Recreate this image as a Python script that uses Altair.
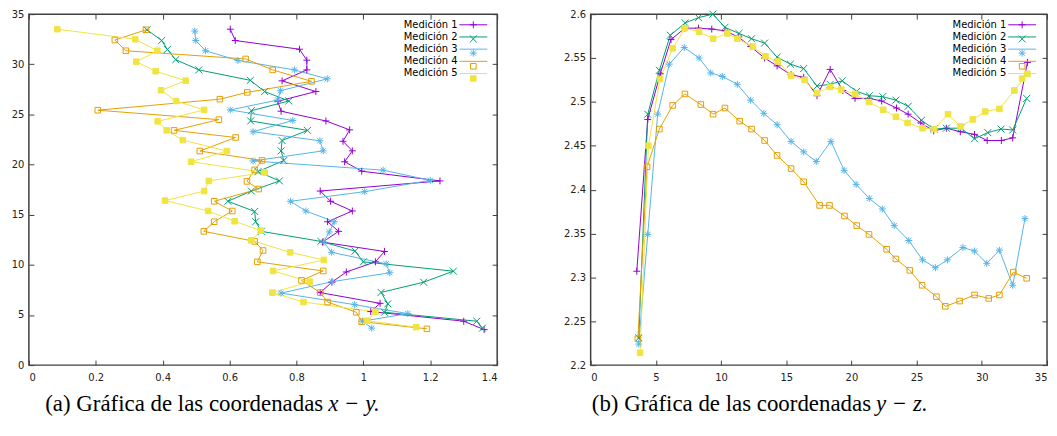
import altair as alt
import pandas as pd

names = ["Medición 1", "Medición 2", "Medición 3", "Medición 4", "Medición 5"]
colors = ["#9400d3", "#009e73", "#56b4e9", "#e69f00", "#f0e442"]

# Medición 1
y1 = [3.54, 4.38, 5.34, 6.16, 7.23, 8.27, 9.29, 10.3, 11.33, 12.27, 13.34, 14.3, 15.37, 16.34, 17.36, 18.37,
      19.34, 20.28, 21.37, 22.32, 23.46, 24.35, 25.32, 26.31, 27.28, 28.35, 29.44, 30.41, 31.5, 32.37, 33.5]
z1 = [2.307, 2.48, 2.532, 2.571, 2.584, 2.584, 2.583, 2.581, 2.574, 2.563, 2.55, 2.541, 2.531, 2.528, 2.507, 2.537,
      2.513, 2.504, 2.504, 2.501, 2.493, 2.486, 2.476, 2.467, 2.47, 2.466, 2.463, 2.456, 2.456, 2.459, 2.545]
x1 = [1.361, 1.3, 1.022, 1.05, 0.871, 0.906, 0.949, 1.036, 1.063, 0.878, 0.926, 0.893, 0.967, 0.902, 0.871, 1.229,
      0.995, 0.944, 0.967, 0.939, 0.959, 0.888, 0.754, 0.744, 0.858, 0.757, 0.831, 0.831, 0.809, 0.617, 0.602]

# Medición 2
y2 = [3.69, 4.38, 5.27, 6.11, 7.25, 8.27, 9.37, 10.3, 11.37, 12.34, 13.34, 14.3, 15.32, 16.34, 17.36, 18.37,
      19.3, 20.4, 21.37, 22.4, 23.41, 24.35, 25.37, 26.34, 27.28, 28.4, 29.44, 30.46, 31.48, 32.37, 33.44]
z2 = [2.231, 2.486, 2.536, 2.576, 2.59, 2.596, 2.6, 2.585, 2.578, 2.572, 2.567, 2.551, 2.543, 2.538, 2.518, 2.52,
      2.524, 2.512, 2.507, 2.506, 2.502, 2.495, 2.479, 2.469, 2.47, 2.47, 2.458, 2.465, 2.469, 2.468, 2.504]
x2 = [1.356, 1.339, 1.063, 1.073, 1.053, 1.18, 1.269, 1.0, 0.975, 0.873, 0.695, 0.678, 0.675, 0.595, 0.665, 0.749,
      0.685, 0.762, 0.754, 0.757, 0.833, 0.663, 0.665, 0.777, 0.705, 0.662, 0.508, 0.439, 0.414, 0.397, 0.353]

# Medición 3
y3 = [3.69, 4.38, 5.14, 6.03, 7.18, 8.32, 9.21, 10.1, 11.25, 12.27, 13.28, 14.3, 15.37, 16.34, 17.3, 18.43,
      19.44, 20.36, 21.37, 22.37, 23.28, 24.4, 25.45, 26.44, 27.36, 28.55, 29.44, 30.38, 31.35, 32.37, 33.31]
z3 = [2.224, 2.349, 2.486, 2.543, 2.562, 2.55, 2.533, 2.529, 2.52, 2.502, 2.487, 2.474, 2.455, 2.443, 2.432, 2.455,
      2.422, 2.406, 2.39, 2.378, 2.359, 2.342, 2.32, 2.311, 2.32, 2.334, 2.33, 2.316, 2.331, 2.291, 2.367]
x3 = [1.025, 0.997, 1.133, 0.974, 0.754, 0.906, 1.079, 1.068, 0.905, 0.881, 0.898, 0.913, 0.828, 0.782, 1.004, 1.2,
      1.059, 0.67, 0.88, 0.87, 0.67, 0.789, 0.602, 0.744, 0.752, 0.892, 0.794, 0.625, 0.528, 0.499, 0.496]

# Medición 4
y4 = [3.62, 4.33, 5.27, 6.29, 7.23, 8.45, 9.39, 10.3, 11.43, 12.34, 13.34, 14.3, 15.37, 16.34, 17.56, 18.32,
      19.47, 20.41, 21.35, 22.7, 23.41, 24.48, 25.42, 26.52, 27.2, 28.3, 29.44, 30.53, 31.35, 32.42, 33.44]
z4 = [2.23, 2.426, 2.469, 2.496, 2.509, 2.497, 2.486, 2.493, 2.478, 2.469, 2.456, 2.439, 2.424, 2.409, 2.382, 2.382,
      2.37, 2.359, 2.349, 2.332, 2.321, 2.308, 2.291, 2.278, 2.267, 2.273, 2.28, 2.276, 2.28, 2.306, 2.299]
x4 = [1.19, 0.995, 0.979, 0.893, 0.871, 0.815, 0.88, 0.683, 0.7, 0.675, 0.523, 0.554, 0.608, 0.554, 0.687, 0.652,
      0.675, 0.697, 0.511, 0.618, 0.434, 0.568, 0.206, 0.571, 0.653, 0.845, 0.729, 0.648, 0.29, 0.257, 0.35]

# Medición 5
y5 = [3.79, 4.43, 5.32, 6.29, 7.23, 8.32, 9.39, 10.49, 11.25, 12.44, 13.41, 14.35, 15.37, 16.41, 17.36, 18.37,
      19.21, 20.28, 21.35, 22.44, 23.41, 24.31, 25.45, 26.34, 27.41, 28.37, 29.31, 30.26, 31.35, 32.5, 33.5]
z5 = [2.214, 2.45, 2.526, 2.561, 2.584, 2.58, 2.572, 2.578, 2.572, 2.563, 2.552, 2.546, 2.53, 2.525, 2.51, 2.517,
      2.514, 2.509, 2.5, 2.491, 2.483, 2.476, 2.47, 2.469, 2.486, 2.472, 2.48, 2.489, 2.492, 2.513, 2.532]
x5 = [1.158, 1.011, 1.036, 0.821, 0.728, 0.84, 0.73, 0.882, 0.781, 0.665, 0.693, 0.615, 0.536, 0.407, 0.524, 0.538,
      0.705, 0.485, 0.592, 0.46, 0.412, 0.385, 0.524, 0.44, 0.395, 0.469, 0.379, 0.321, 0.384, 0.318, 0.085]

xticks_a = [0, 0.2, 0.4, 0.6, 0.8, 1.0, 1.2, 1.4]
yticks_a = [0, 5, 10, 15, 20, 25, 30, 35]
xticks_b = [0, 5, 10, 15, 20, 25, 30, 35]
yticks_b = [2.2, 2.25, 2.3, 2.35, 2.4, 2.45, 2.5, 2.55, 2.6]

rows = []
for name, xs, ys, zs in zip(names, [x1, x2, x3, x4, x5], [y1, y2, y3, y4, y5], [z1, z2, z3, z4, z5]):
    for i, (a, b, c) in enumerate(zip(xs, ys, zs)):
        rows.append({"serie": name, "serie2": name, "idx": i, "X": a, "Y": b, "Z": c})
df = pd.DataFrame(rows)

shapes = [
    "M-1,0H1M0,-1V1",
    "M-1,-1L1,1M-1,1L1,-1",
    "M-1,0H1M0,-1V1M-0.75,-0.75L0.75,0.75M-0.75,0.75L0.75,-0.75",
    "M-0.8,-0.8H0.8V0.8H-0.8Z",
    "M-0.8,-0.8H0.8V0.8H-0.8Z",
]
fills = ["transparent", "transparent", "transparent", "transparent", "#f0e442"]

BORDER = "#404040"


def panel(xf, yf, xdom, ydom, xvals, yvals, W, H, legx, cap1, cap2, capx):
    xs = alt.Scale(domain=xdom, nice=False, zero=False)
    ys = alt.Scale(domain=ydom, nice=False, zero=False)
    ext = dict(minExtent=0, domain=False, grid=False, title=None, offset=-5, tickSize=5)
    ax_b = alt.Axis(orient="bottom", values=xvals, format="~g", labelPadding=7, **ext)
    ax_l = alt.Axis(orient="left", values=yvals, format="~g", labelPadding=5, **ext)
    ax_t = alt.Axis(orient="top", values=xvals, labels=False, **ext)
    ax_r = alt.Axis(orient="right", values=yvals, labels=False, **ext)
    common = dict(orient="none", legendX=legx, legendY=5.7, title=None, padding=0,
                  labelFont="DejaVu Sans", labelFontSize=10, labelColor="#000",
                  rowPadding=2.25, labelOffset={"expr": "-75"}, symbolOffset=75)
    leg_line = alt.Legend(symbolType="M-4,0H4", symbolSize=49, symbolStrokeWidth=1, **common)
    leg_pts = alt.Legend(symbolSize=49, symbolStrokeWidth=1, labelExpr="''", **common)

    line = alt.Chart(df).mark_line(strokeWidth=1).encode(
        x=alt.X(f"{xf}:Q", scale=xs, axis=ax_b),
        y=alt.Y(f"{yf}:Q", scale=ys, axis=ax_l),
        color=alt.Color("serie:N", scale=alt.Scale(range=colors), legend=leg_line),
        order=alt.Order("idx:Q"),
    )
    pts = alt.Chart(df).mark_point(filled=False, size=49, strokeWidth=1, opacity=1).encode(
        x=alt.X(f"{xf}:Q", scale=xs, axis=ax_t),
        y=alt.Y(f"{yf}:Q", scale=ys, axis=ax_r),
        stroke=alt.Stroke("serie2:N", scale=alt.Scale(domain=names, range=colors), legend=leg_pts),
        shape=alt.Shape("serie2:N", scale=alt.Scale(domain=names, range=shapes), legend=leg_pts),
        fill=alt.Fill("serie2:N", scale=alt.Scale(domain=names, range=fills), legend=leg_pts),
    )
    t1 = alt.Chart(pd.DataFrame({"t": [cap1]})).mark_text(
        align="right", baseline="alphabetic", font="Liberation Serif", fontSize=23, color="#000"
    ).encode(x=alt.value(capx), y=alt.value(H + 46), text="t:N")
    t2 = alt.Chart(pd.DataFrame({"t": [cap2]})).mark_text(
        align="left", baseline="alphabetic", font="Liberation Serif", fontSize=23, fontStyle="italic", color="#000"
    ).encode(x=alt.value(capx + 5), y=alt.value(H + 46), text="t:N")
    return alt.layer(line, pts, t1, t2).properties(width=W, height=H)


left = panel("X", "Y", [0, 1.4], [0, 35], xticks_a, yticks_a, 471, 353, 367,
             "(a) Gráfica de las coordenadas", "x − y.", 296)
right = panel("Y", "Z", [0, 35], [2.2, 2.6], xticks_b, yticks_b, 459, 353, 354,
              "(b) Gráfica de las coordenadas", "y − z.", 282)

chart = alt.hconcat(left, right, spacing=63).resolve_scale(
    color="independent", stroke="independent", shape="independent", fill="independent"
).resolve_legend(
    color="independent", stroke="independent", shape="independent", fill="independent"
).configure_view(
    stroke=BORDER, strokeWidth=1.5
).configure_axis(
    labelFont="DejaVu Sans", labelFontSize=10, labelColor="#222", tickColor=BORDER, tickWidth=1
).properties(padding={"left": 2, "top": -2, "right": 0, "bottom": 0})

chart.save("out.html", embed_options={"renderer": "svg", "actions": False})
